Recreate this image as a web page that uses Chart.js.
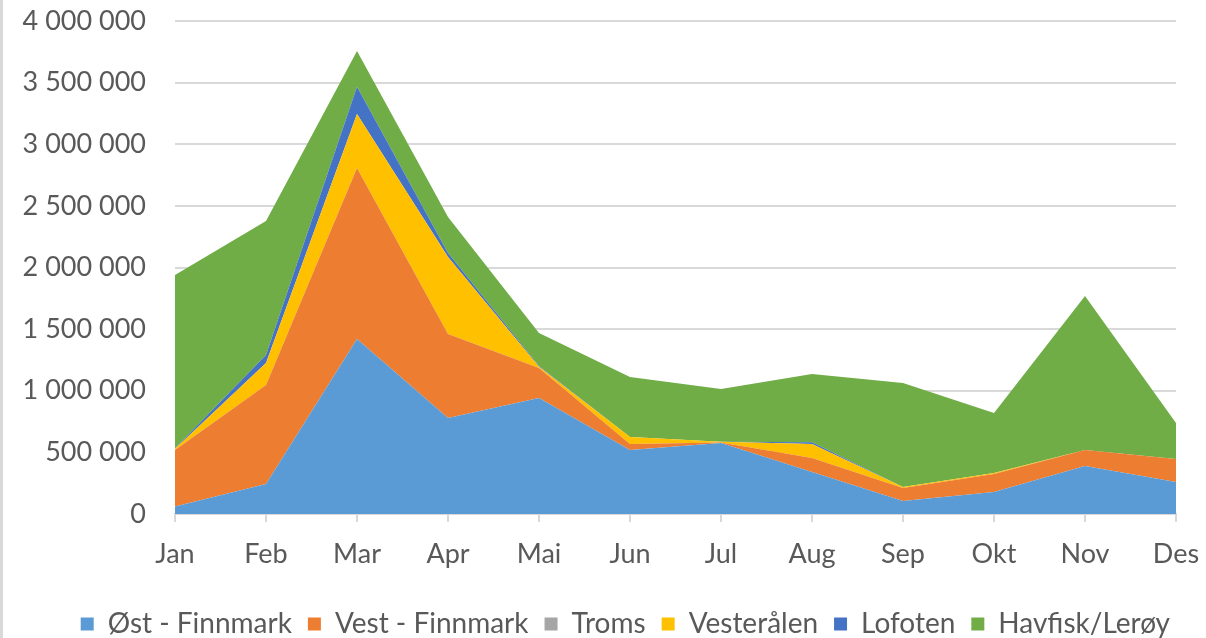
<!DOCTYPE html>
<html>
<head>
<meta charset="utf-8">
<script src="https://cdn.jsdelivr.net/npm/chart.js@4/dist/chart.umd.min.js"></script>
<style>
  html, body { margin: 0; padding: 0; background: #ffffff; }
  #wrap { position: relative; width: 1206px; height: 638px; overflow: hidden; }
  #edge { position: absolute; left: 0; top: 0; width: 3px; height: 638px; background: #d9d9d9; }
  canvas { position: absolute; left: 0; top: 0; }
</style>
</head>
<body>
<div id="wrap">
  <canvas id="c" width="1206" height="638"></canvas>
  <div id="edge"></div>
</div>
<script>
const months = ["Jan", "Feb", "Mar", "Apr", "Mai", "Jun", "Jul", "Aug", "Sep", "Okt", "Nov", "Des"];
const seriesNames = ["Øst - Finnmark", "Vest - Finnmark", "Troms", "Vesterålen", "Lofoten", "Havfisk/Lerøy"];
const ostFinnmark  = [60000, 243000, 1420000, 779000, 941000, 519000, 576000, 341000, 105000, 178000, 389000, 260000];
const vestFinnmark = [459000, 804000, 1387000, 681000, 244000, 49000, 5000, 113000, 106000, 147000, 130000, 186000];
const troms        = [0, 0, 0, 0, 0, 0, 0, 0, 0, 0, 0, 0];
const vesteralen   = [10000, 178000, 439000, 625000, 10000, 57000, 5000, 114000, 8000, 7000, 0, 0];
const lofoten      = [5000, 65000, 220000, 33000, 5000, 0, 0, 15000, 0, 0, 0, 0];
const havfisk      = [1405000, 1087000, 291000, 292000, 269000, 487000, 428000, 553000, 844000, 488000, 1250000, 292000];
const yTicks = [0, 500000, 1000000, 1500000, 2000000, 2500000, 3000000, 3500000, 4000000];
const colors = ["#5B9BD5", "#ED7D31", "#A5A5A5", "#FFC000", "#4472C4", "#70AD47"];

const seriesData = [ostFinnmark, vestFinnmark, troms, vesteralen, lofoten, havfisk];
const fmt = v => String(v).replace(/\B(?=(\d{3})+(?!\d))/g, " ");

const datasets = seriesData.map((d, i) => ({
  label: seriesNames[i],
  data: d,
  backgroundColor: colors[i],
  borderColor: colors[i],
  borderWidth: 0,
  pointRadius: 0,
  pointHoverRadius: 0,
  tension: 0,
  fill: i === 0 ? "origin" : "-1"
}));

const textColor = "#595959";
const fontFam = "Lato, 'Open Sans', sans-serif";

const legendShift = {
  id: "legendShift",
  afterLayout(chart) {
    if (chart.legend) { chart.legend.left += 10; chart.legend.right += 10; }
  }
};

new Chart(document.getElementById("c"), {
  type: "line",
  data: { labels: months, datasets },
  plugins: [legendShift],
  options: {
    responsive: false,
    animation: false,
    devicePixelRatio: 1,
    layout: { padding: { left: 0, right: 30, top: 21, bottom: -10 } },
    plugins: {
      tooltip: { enabled: false },
      legend: {
        position: "bottom",
        align: "end",
        labels: {
          color: textColor,
          font: { family: fontFam, size: 28 },
          boxWidth: 13,
          boxHeight: 13,
          padding: 16
        }
      }
    },
    scales: {
      x: {
        offset: false,
        grid: { display: true, drawOnChartArea: false, drawTicks: true, tickLength: 8, color: "#d9d9d9", lineWidth: 2 },
        border: { display: true, color: "#d9d9d9", width: 2 },
        ticks: { color: textColor, font: { family: fontFam, size: 27 }, padding: 16, maxRotation: 0, autoSkip: false },
        afterFit: s => { s.height = 80; s.paddingLeft = 0; s.paddingRight = 0; }
      },
      y: {
        stacked: true,
        min: 0,
        max: 4000000,
        afterBuildTicks: s => { s.ticks = yTicks.map(v => ({ value: v })); },
        grid: { color: "#d9d9d9", lineWidth: 2, drawTicks: false },
        border: { display: false },
        ticks: { color: textColor, font: { family: fontFam, size: 27 }, padding: 29, callback: v => fmt(v) },
        afterFit: s => { s.width = 175; s.paddingTop = 0; s.paddingBottom = 0; }
      }
    }
  }
});
</script>
</body>
</html>
